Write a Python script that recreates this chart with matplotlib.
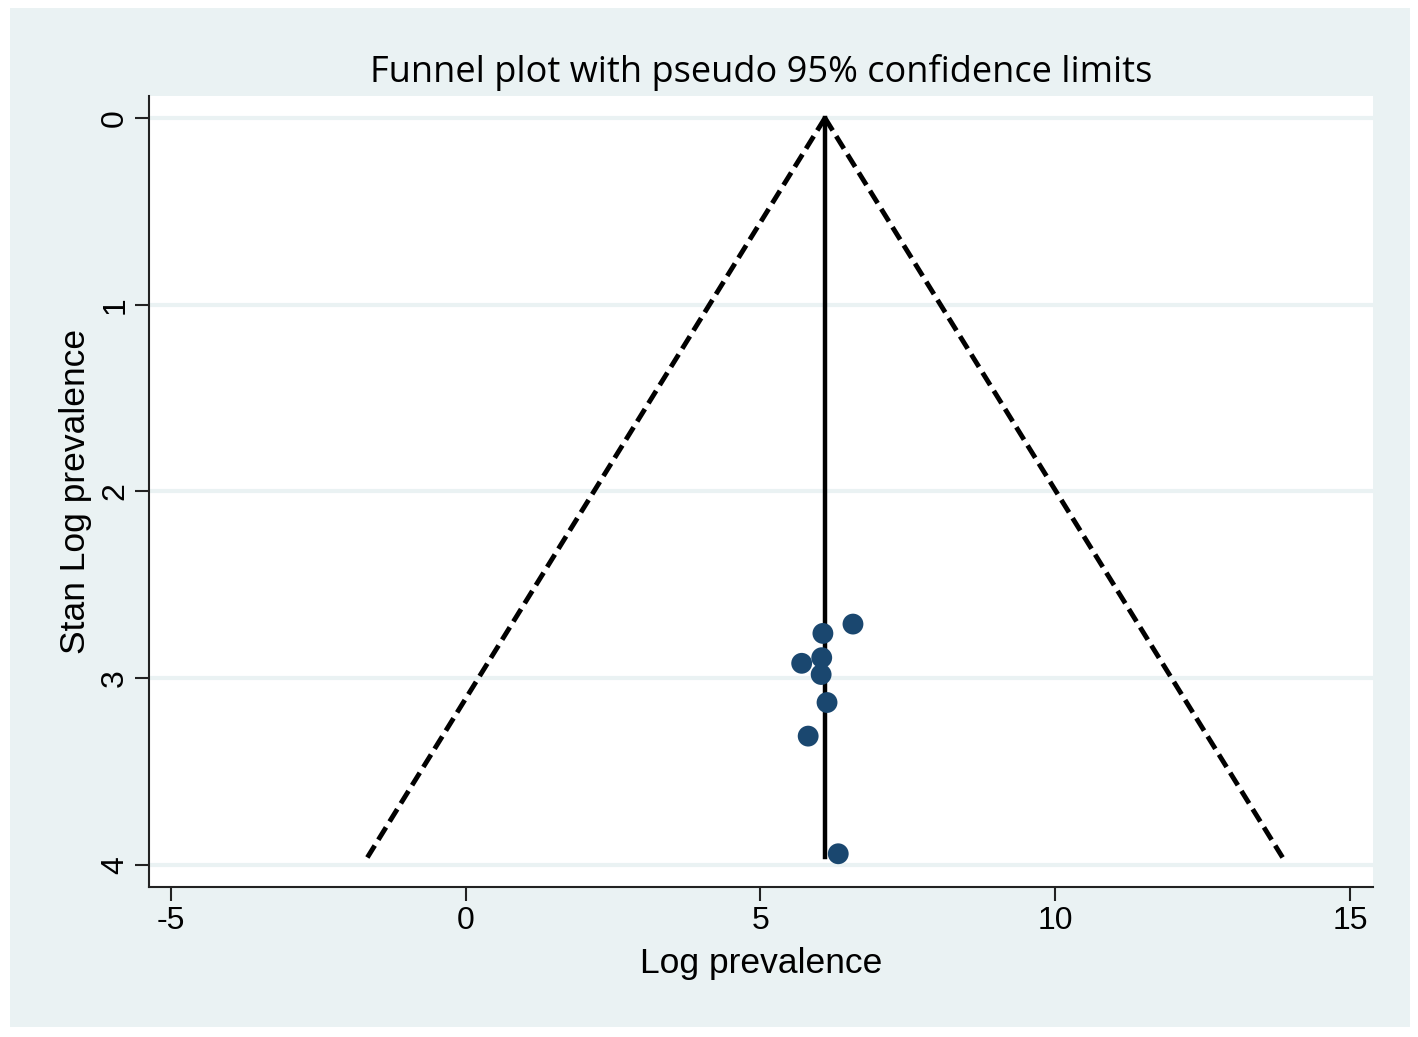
import matplotlib.pyplot as plt
from matplotlib.patches import Rectangle
import numpy as np

plt.rcParams['font.family'] = ['Liberation Sans', 'DejaVu Sans']
plt.rcParams['axes.unicode_minus'] = False

# study estimates
log_prev = [6.57, 6.06, 6.04, 5.70, 6.03, 6.13, 5.81, 6.32]
se_log_prev = [2.71, 2.76, 2.89, 2.92, 2.98, 3.13, 3.31, 3.94]

pooled = 6.095
se_max = 3.96

x_ticks = [-5, 0, 5, 10, 15]
y_ticks = [0, 1, 2, 3, 4]

bg = '#eaf2f3'
navy = '#1a476f'

fig = plt.figure(figsize=(14.18, 10.37), dpi=100)
fig.patch.set_facecolor('white')
# Stata style outer panel, kept behind the axes
fig.patches.append(Rectangle((10 / 1418, 1 - 1027 / 1037), 1400 / 1418, 1019 / 1037,
                             transform=fig.transFigure, facecolor=bg, edgecolor='none', zorder=-10))

ax = fig.add_axes([149 / 1418, 1 - 887 / 1037, (1373 - 149) / 1418, (887 - 96) / 1037])
ax.set_facecolor('white')

ax.set_xlim(-5.37, 15.39)
ax.set_ylim(4.118, -0.118)

for t in y_ticks:
    ax.axhline(t, color=bg, lw=3, zorder=1)

# pseudo 95% confidence limits
se_line = np.array([0, se_max])
ax.plot(pooled - 1.96 * se_line, se_line, color='black', lw=3.5, dashes=(3, 1.4), zorder=2)
ax.plot(pooled + 1.96 * se_line, se_line, color='black', lw=3.5, dashes=(3, 1.4), zorder=2)
ax.plot([pooled, pooled], se_line, color='black', lw=3.2, zorder=2)

ax.scatter(log_prev, se_log_prev, s=225, color=navy, edgecolors='none', zorder=3)

ax.set_xticks(x_ticks)
ax.set_yticks(y_ticks)
ax.tick_params(axis='both', labelsize=23, length=10, width=1.5, color='#222222')
for lab in ax.get_yticklabels():
    lab.set_rotation(90)
    lab.set_va('center')

for side in ['top', 'right']:
    ax.spines[side].set_visible(False)
for side in ['left', 'bottom']:
    ax.spines[side].set_linewidth(1.5)
    ax.spines[side].set_color('#222222')

ax.set_xlabel('Log prevalence', fontsize=25.5, labelpad=8)
ax.set_ylabel('Stan Log prevalence', fontsize=25.5, labelpad=6)
ax.set_title('Funnel plot with pseudo 95% confidence limits', fontsize=26,
             family=['Open Sans', 'DejaVu Sans'], pad=10)

fig.savefig('out.png', dpi=100, facecolor='white')
